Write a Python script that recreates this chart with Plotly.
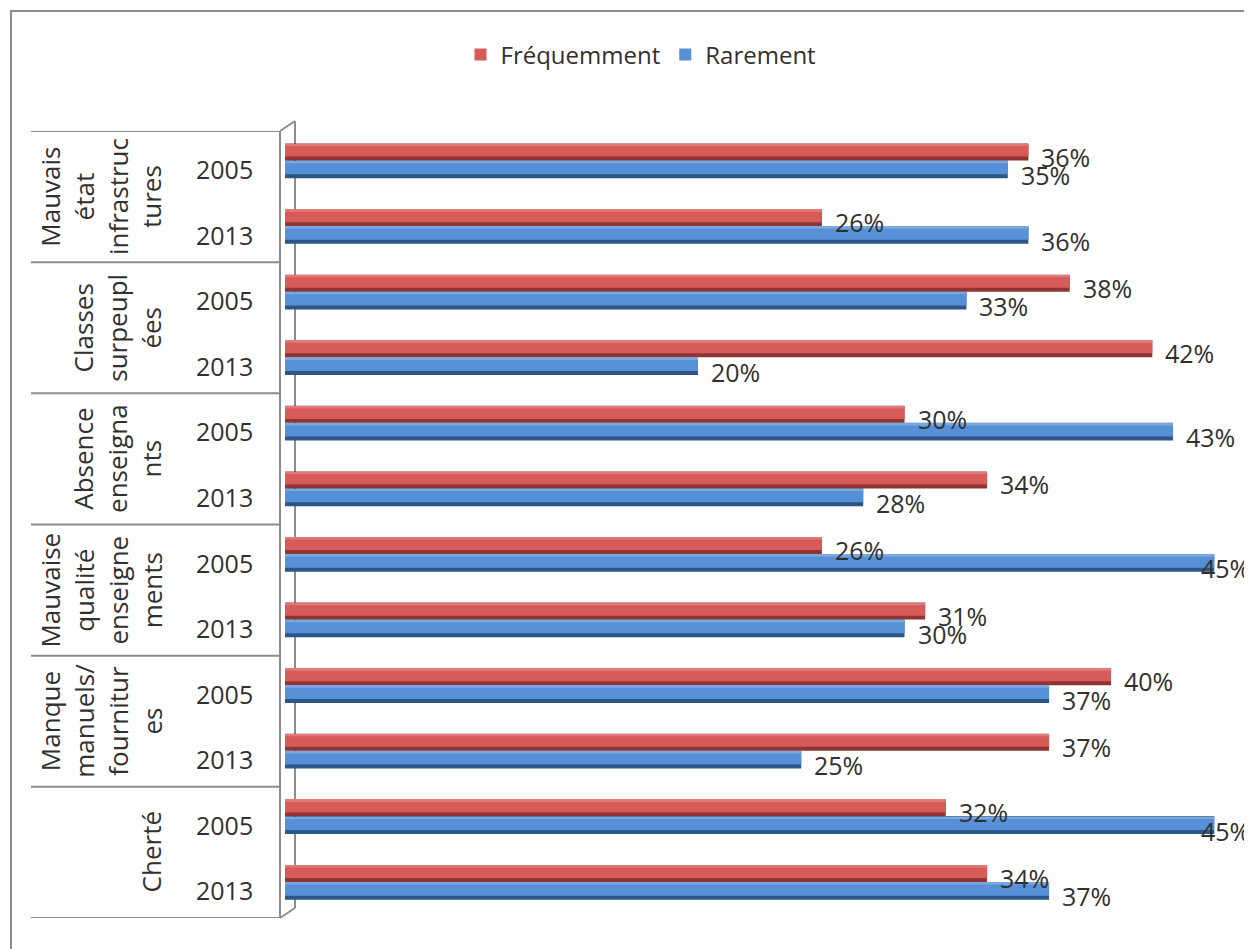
import plotly.graph_objects as go

categories = ["Mauvais<br>état<br>infrastruc<br>tures", "Classes<br>surpeupl<br>ées",
              "Absence<br>enseigna<br>nts", "Mauvaise<br>qualité<br>enseigne<br>ments",
              "Manque<br>manuels/<br>fournitur<br>es", "Cherté"]
years = ["2005", "2013"]
frequemment = [36, 26, 38, 42, 30, 34, 26, 31, 40, 37, 32, 34]
rarement = [35, 36, 33, 20, 43, 28, 45, 30, 37, 25, 45, 37]

OFF = 8  # page body margin
W, H = 1252 - OFF, 949 - OFF
L_REF, RIGHT_REF, T_REF, B_REF = 285, 1235, 131, 918
L, T = L_REF - OFF, T_REF - OFF
R = W - (RIGHT_REF - OFF)
B = H - (B_REF - OFF)
PW, PH = W - L - R, H - T - B
SCALE = 20.65  # px per percent
FONT = "Open Sans"
TXT = "#303030"


def px(x_ref):
    return (x_ref - OFF - L) / PW


def py(y_ref):
    return (H - B - (y_ref - OFF)) / PH


rows = list(range(len(frequemment)))

fig = go.Figure()
fig.add_trace(go.Bar(y=rows, x=frequemment, orientation="h", width=0.26, offset=-0.31,
                     marker=dict(color="#8e3533", line=dict(width=0)), showlegend=False, hoverinfo="skip"))
fig.add_trace(go.Bar(y=rows, x=rarement, orientation="h", width=0.27, offset=-0.05,
                     marker=dict(color="#2c5688", line=dict(width=0)), showlegend=False, hoverinfo="skip"))
fig.add_trace(go.Bar(y=rows, x=frequemment, orientation="h", width=0.19, offset=-0.30,
                     marker=dict(color="#d75b59", line=dict(width=0)), name="Fréquemment"))
fig.add_trace(go.Bar(y=rows, x=rarement, orientation="h", width=0.20, offset=-0.04,
                     marker=dict(color="#5690d6", line=dict(width=0)), name="Rarement"))
fig.add_trace(go.Bar(y=rows, x=frequemment, orientation="h", width=0.03, offset=-0.30,
                     marker=dict(color="#e07a78", line=dict(width=0)), showlegend=False, hoverinfo="skip"))
fig.add_trace(go.Bar(y=rows, x=rarement, orientation="h", width=0.03, offset=-0.04,
                     marker=dict(color="#7aa7e0", line=dict(width=0)), showlegend=False, hoverinfo="skip"))

line = dict(color="#8c8c8c", width=2)
shapes = []
shapes.append(dict(type="rect", xref="paper", yref="paper", x0=px(11), x1=px(1400),
                   y0=py(1100), y1=py(11), line=line, layer="below"))
for k in range(len(categories) + 1):
    yb = -0.5 + 2 * k
    shapes.append(dict(type="line", xref="paper", yref="y", x0=px(31), x1=px(280), y0=yb, y1=yb,
                       line=line, layer="below"))
shapes.append(dict(type="line", xref="paper", yref="y", x0=px(280), x1=px(280), y0=-0.5, y1=11.5,
                   line=line, layer="below"))
shapes.append(dict(type="line", xref="paper", yref="paper", x0=px(280), x1=px(295), y0=py(131), y1=py(121),
                   line=line, layer="below"))
shapes.append(dict(type="line", xref="paper", yref="paper", x0=px(280), x1=px(295), y0=py(918), y1=py(908),
                   line=line, layer="below"))
shapes.append(dict(type="line", xref="paper", yref="paper", x0=px(295), x1=px(295), y0=py(908), y1=py(121),
                   line=line, layer="below"))

annotations = []
for i, c in enumerate(categories):
    annotations.append(dict(x=px(171), xref="paper", y=2 * i + 0.5, yref="y", text=c, textangle=-90,
                            xanchor="right", yanchor="middle", showarrow=False, align="center",
                            font=dict(family=FONT, size=26, color=TXT)))
    for j, yr in enumerate(years):
        annotations.append(dict(x=px(224), xref="paper", y=2 * i + j + 0.08, yref="y", text=yr,
                                xanchor="center", yanchor="middle", showarrow=False,
                                font=dict(family=FONT, size=25, color=TXT)))


def label_shift(v):
    end = L_REF + v * SCALE
    return min(11, 1249 - end - 50)


for r, v in zip(rows, frequemment):
    annotations.append(dict(x=v, xref="x", y=r - 0.11, yref="y", text=f"{v}%", xanchor="left",
                            yanchor="middle", xshift=label_shift(v), showarrow=False,
                            font=dict(family=FONT, size=25, color=TXT)))
for r, v in zip(rows, rarement):
    annotations.append(dict(x=v, xref="x", y=r + 0.17, yref="y", text=f"{v}%", xanchor="left",
                            yanchor="middle", xshift=label_shift(v), showarrow=False,
                            font=dict(family=FONT, size=25, color=TXT)))

fig.update_layout(
    width=W, height=H,
    margin=dict(l=L, r=R, t=T, b=B),
    paper_bgcolor="white", plot_bgcolor="white",
    barmode="overlay",
    xaxis=dict(range=[0, PW / SCALE], visible=False, fixedrange=True),
    yaxis=dict(range=[11.5, -0.5], showticklabels=False, showgrid=False, zeroline=False,
               showline=False, ticks=""),
    legend=dict(orientation="h", x=px(641), y=py(55), xanchor="center", yanchor="middle",
                font=dict(family=FONT, size=24, color=TXT), traceorder="normal",
                itemwidth=30, bgcolor="rgba(0,0,0,0)"),
    shapes=shapes,
    annotations=annotations,
    showlegend=True,
)

fig.write_html("out.html")
